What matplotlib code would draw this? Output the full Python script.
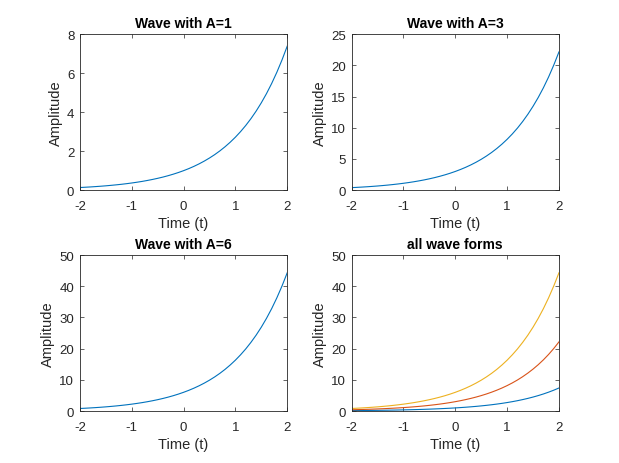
import matplotlib.pyplot as plt

plt.rcParams['font.family'] = ['Liberation Sans', 'DejaVu Sans']
plt.rcParams['axes.unicode_minus'] = False

# time samples and the amplitude
t = [-2.0, -1.9, -1.8, -1.7, -1.6, -1.5, -1.4, -1.3, -1.2, -1.1, -1.0,
     -0.9, -0.8, -0.7, -0.6, -0.5, -0.4, -0.3, -0.2, -0.1, 0.0,
     0.1, 0.2, 0.3, 0.4, 0.5, 0.6, 0.7, 0.8, 0.9, 1.0,
     1.1, 1.2, 1.3, 1.4, 1.5, 1.6, 1.7, 1.8, 1.9, 2.0]
wave_a1 = [0.135, 0.150, 0.165, 0.183, 0.202, 0.223, 0.247, 0.273, 0.301, 0.333, 0.368,
           0.407, 0.449, 0.497, 0.549, 0.607, 0.670, 0.741, 0.819, 0.905, 1.0,
           1.105, 1.221, 1.350, 1.492, 1.649, 1.822, 2.014, 2.226, 2.460, 2.718,
           3.004, 3.320, 3.669, 4.055, 4.482, 4.953, 5.474, 6.050, 6.686, 7.389]
wave_a3 = [0.406, 0.449, 0.496, 0.548, 0.606, 0.669, 0.740, 0.818, 0.904, 0.999, 1.104,
           1.220, 1.348, 1.490, 1.646, 1.820, 2.011, 2.222, 2.456, 2.714, 3.0,
           3.316, 3.664, 4.050, 4.475, 4.946, 5.466, 6.041, 6.677, 7.379, 8.155,
           9.013, 9.960, 11.01, 12.17, 13.45, 14.86, 16.42, 18.15, 20.06, 22.17]
wave_a6 = [0.812, 0.898, 0.992, 1.096, 1.211, 1.339, 1.480, 1.635, 1.807, 1.997, 2.207,
           2.440, 2.696, 2.980, 3.293, 3.639, 4.022, 4.445, 4.912, 5.429, 6.0,
           6.631, 7.328, 8.099, 8.951, 9.892, 10.93, 12.08, 13.35, 14.76, 16.31,
           18.03, 19.92, 22.02, 24.33, 26.89, 29.72, 32.84, 36.30, 40.12, 44.33]

titles = ['Wave with A=1', 'Wave with A=3', 'Wave with A=6', 'all wave forms']
ylims = [8, 25, 50, 50]
colors = ['#0072BD', '#D95319', '#EDB120']

fig = plt.figure(figsize=(6.19, 4.64), dpi=100)
lefts = [0.129, 0.568]
bottoms = [0.588, 0.112]
w, h = 0.335, 0.336

axes = []
for r in range(2):
    for c in range(2):
        axes.append(fig.add_axes([lefts[c], bottoms[r], w, h]))

series = [wave_a1, wave_a3, wave_a6]
for i, ax in enumerate(axes):
    if i < 3:
        ax.plot(t, series[i], color=colors[0], lw=0.8)
    else:
        for s, col in zip(series, colors):
            ax.plot(t, s, color=col, lw=0.8)
    ax.set_xlim(-2, 2)
    ax.set_ylim(0, ylims[i])
    ax.set_xticks([-2, -1, 0, 1, 2])
    ax.set_title(titles[i], fontsize=10, fontweight='bold', pad=5)
    ax.set_xlabel('Time (t)', fontsize=10.5, color='#262626', labelpad=3)
    ax.set_ylabel('Amplitude', fontsize=10.5, color='#262626', labelpad=3)
    ax.tick_params(direction='in', top=True, right=True, labelsize=9.5,
                   colors='#262626', length=3, width=0.5)
    ax.tick_params(axis='x', pad=7)
    ax.tick_params(axis='y', pad=4)
    for sp in ax.spines.values():
        sp.set_linewidth(0.6)
        sp.set_color('#262626')

fig.savefig('out.png', dpi=100)
